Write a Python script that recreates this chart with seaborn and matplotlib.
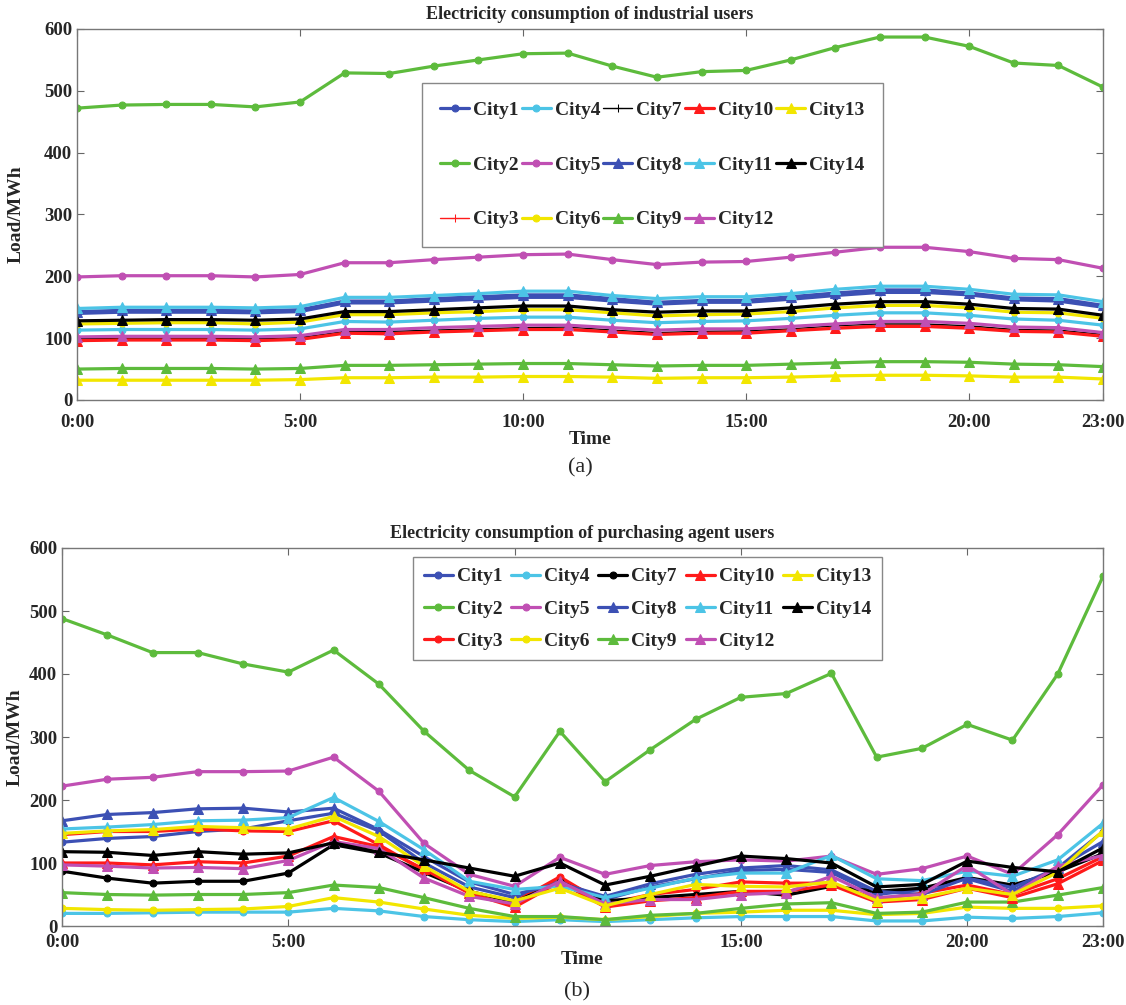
import matplotlib
matplotlib.use("Agg")
import matplotlib.pyplot as plt
import seaborn as sns

hours = list(range(24))
tick_hours = [0, 5, 10, 15, 20, 23]
tick_labels = ["0:00", "5:00", "10:00", "15:00", "20:00", "23:00"]
cities = ["City%d" % i for i in range(1, 15)]

# (a) industrial users, MWh per hour
ind_c1 = [140, 142, 142, 142, 141, 143, 157, 157, 160, 163, 166, 166, 160, 155, 158, 158, 163, 169, 174, 174, 170, 162, 160, 150]
ind_c2 = [472, 477, 478, 478, 474, 482, 529, 528, 540, 550, 560, 561, 540, 522, 531, 533, 550, 570, 587, 587, 572, 545, 541, 506]
ind_c3 = [97, 98, 98, 98, 97, 99, 109, 109, 111, 113, 115, 115, 111, 107, 109, 110, 113, 117, 121, 121, 118, 112, 111, 104]
ind_c4 = [113, 114, 114, 114, 113, 115, 127, 126, 129, 132, 134, 134, 129, 125, 127, 128, 132, 137, 141, 141, 137, 131, 129, 121]
ind_c5 = [199, 201, 201, 201, 199, 203, 222, 222, 227, 231, 235, 236, 227, 219, 223, 224, 231, 239, 247, 247, 240, 229, 227, 213]
ind_c6 = [123, 124, 125, 125, 123, 126, 138, 138, 141, 143, 146, 146, 141, 136, 138, 139, 143, 149, 153, 153, 149, 142, 141, 132]
ind_c7 = [99, 100, 100, 100, 99, 101, 111, 111, 113, 115, 117, 118, 113, 109, 111, 112, 115, 120, 123, 123, 120, 114, 113, 106]
ind_c8 = [143, 145, 145, 145, 144, 146, 160, 160, 164, 167, 170, 170, 164, 158, 161, 161, 167, 173, 178, 178, 173, 165, 164, 153]
ind_c9 = [50, 51, 51, 51, 50, 51, 56, 56, 57, 58, 59, 59, 57, 55, 56, 56, 58, 60, 62, 62, 61, 58, 57, 54]
ind_c10 = [96, 97, 97, 97, 96, 98, 108, 107, 110, 112, 114, 114, 110, 106, 108, 108, 112, 116, 119, 119, 116, 111, 110, 103]
ind_c11 = [148, 150, 150, 150, 149, 151, 166, 166, 169, 172, 176, 176, 169, 164, 167, 167, 172, 179, 184, 184, 179, 171, 170, 159]
ind_c12 = [102, 103, 103, 103, 102, 104, 114, 114, 117, 119, 121, 121, 117, 113, 115, 115, 119, 123, 127, 127, 124, 118, 117, 109]
ind_c13 = [32, 32, 32, 32, 32, 33, 36, 36, 37, 37, 38, 38, 37, 35, 36, 36, 37, 39, 40, 40, 39, 37, 37, 34]
ind_c14 = [128, 129, 130, 130, 129, 131, 143, 143, 146, 149, 152, 152, 146, 142, 144, 144, 149, 155, 159, 159, 155, 148, 147, 137]

# (b) purchasing agent users, MWh per hour
agt_c1 = [133, 139, 142, 150, 154, 167, 179, 151, 100, 62, 45, 72, 42, 62, 75, 88, 90, 85, 50, 58, 75, 55, 92, 150]
agt_c2 = [488, 462, 434, 434, 416, 403, 438, 384, 309, 247, 205, 309, 229, 280, 328, 363, 369, 401, 268, 282, 320, 295, 400, 555]
agt_c3 = [145, 150, 150, 154, 151, 150, 167, 129, 88, 55, 38, 78, 35, 50, 58, 70, 68, 68, 42, 52, 65, 50, 75, 110]
agt_c4 = [20, 20, 21, 22, 22, 22, 28, 24, 15, 10, 7, 10, 7, 10, 13, 15, 15, 15, 8, 8, 14, 12, 15, 21]
agt_c5 = [222, 233, 236, 245, 245, 246, 268, 214, 131, 82, 63, 109, 82, 96, 102, 105, 103, 111, 82, 91, 111, 82, 145, 224]
agt_c6 = [28, 26, 25, 26, 27, 31, 45, 38, 27, 17, 12, 14, 10, 15, 20, 22, 25, 25, 18, 20, 30, 28, 28, 32]
agt_c7 = [87, 76, 68, 71, 71, 84, 129, 116, 85, 55, 38, 70, 40, 45, 50, 55, 49, 63, 55, 60, 77, 65, 86, 115]
agt_c8 = [167, 177, 180, 186, 187, 181, 187, 153, 110, 70, 50, 68, 47, 67, 82, 92, 96, 89, 55, 50, 76, 61, 92, 134]
agt_c9 = [53, 50, 49, 50, 50, 53, 65, 61, 45, 28, 15, 15, 10, 17, 20, 28, 35, 37, 20, 22, 38, 38, 49, 61]
agt_c10 = [100, 100, 97, 102, 100, 111, 142, 126, 90, 52, 30, 70, 30, 40, 45, 55, 55, 65, 38, 42, 60, 45, 67, 104]
agt_c11 = [154, 157, 161, 167, 168, 172, 204, 166, 121, 71, 58, 63, 45, 60, 76, 84, 84, 112, 75, 72, 87, 79, 105, 163]
agt_c12 = [97, 95, 92, 93, 91, 104, 134, 123, 76, 47, 35, 71, 35, 42, 42, 50, 53, 79, 45, 50, 96, 50, 95, 112]
agt_c13 = [147, 151, 153, 158, 156, 154, 174, 142, 95, 55, 40, 60, 32, 50, 66, 63, 62, 70, 40, 45, 60, 50, 85, 151]
agt_c14 = [118, 117, 112, 118, 114, 116, 132, 117, 105, 92, 79, 100, 65, 79, 95, 111, 107, 100, 62, 66, 103, 93, 86, 124]

ind_series = [ind_c1, ind_c2, ind_c3, ind_c4, ind_c5, ind_c6, ind_c7,
              ind_c8, ind_c9, ind_c10, ind_c11, ind_c12, ind_c13, ind_c14]
agt_series = [agt_c1, agt_c2, agt_c3, agt_c4, agt_c5, agt_c6, agt_c7,
              agt_c8, agt_c9, agt_c10, agt_c11, agt_c12, agt_c13, agt_c14]

blue, green, red, cyan = "#3c50b4", "#5dbb3c", "#ff1a1a", "#4cc4e6"
magenta, yellow, black = "#c04fb3", "#f2e600", "#000000"
colors = [blue, green, red, cyan, magenta, yellow, black,
          blue, green, red, cyan, magenta, yellow, black]
markers = ["o"] * 7 + ["^"] * 7

sns.set_style("ticks")
plt.rcParams["font.family"] = ["Liberation Serif", "DejaVu Serif"]
plt.rcParams["font.weight"] = "bold"
plt.rcParams["axes.labelweight"] = "bold"
plt.rcParams["axes.titleweight"] = "bold"

fig = plt.figure(figsize=(11.26, 10.05), dpi=100)
ax1 = fig.add_axes([77 / 1126, 1 - 400 / 1005, 1026 / 1126, 371 / 1005])
ax2 = fig.add_axes([62 / 1126, 1 - 926 / 1005, 1041 / 1126, 378 / 1005])


def draw(ax, series, thin, title, anchor, spacing, pad, colsp, xpad, ylpad):
    for i, (name, vals) in enumerate(zip(cities, series)):
        mk, lw = markers[i], 2.3
        ms = 5 if mk == "o" else 7.5
        if thin and i in (2, 6):
            # City3 / City7 are thin lines with "+" marks in the top panel
            mk, lw, ms = "+", 1.0, 6
        sns.lineplot(x=hours, y=vals, ax=ax, color=colors[i], marker=mk,
                     markersize=ms, markeredgecolor=colors[i], linewidth=lw,
                     label=name)
    ax.set_xlim(0, 23)
    ax.set_ylim(0, 600)
    ax.set_xticks(tick_hours)
    ax.set_xticklabels(tick_labels)
    ax.set_yticks(range(0, 601, 100))
    ax.tick_params(direction="in", top=True, right=True, length=5,
                   labelsize=13.5, color="#666666")
    ax.tick_params(axis="x", pad=xpad)
    for s in ax.spines.values():
        s.set_color("#777777")
        s.set_linewidth(1)
    ax.set_title(title, fontsize=13, pad=7)
    ax.set_xlabel("Time", fontsize=14, labelpad=0)
    ax.set_ylabel("Load/MWh", fontsize=14, labelpad=ylpad)
    leg = ax.legend(loc="upper left", bbox_to_anchor=anchor, ncol=5,
                    fontsize=14, labelspacing=spacing, borderpad=pad,
                    borderaxespad=0, handlelength=1.5, handletextpad=0.2,
                    columnspacing=colsp, fancybox=False, framealpha=1,
                    edgecolor="#888888")
    leg.get_frame().set_linewidth(1)


draw(ax1, ind_series, True, "Electricity consumption of industrial users",
     (0.336, 0.854), 1.9, 0.95, 0.15, 10, 14)
draw(ax2, agt_series, False, "Electricity consumption of purchasing agent users",
     (0.337, 0.976), 0.75, 0.55, 0.45, 6, 4)

fig.text(580 / 1126, 1 - 468 / 1005, "(a)", ha="center", va="center",
         fontsize=16, fontweight="normal")
fig.text(577 / 1126, 1 - 992 / 1005, "(b)", ha="center", va="center",
         fontsize=16, fontweight="normal")

fig.savefig("out.png", dpi=100)
